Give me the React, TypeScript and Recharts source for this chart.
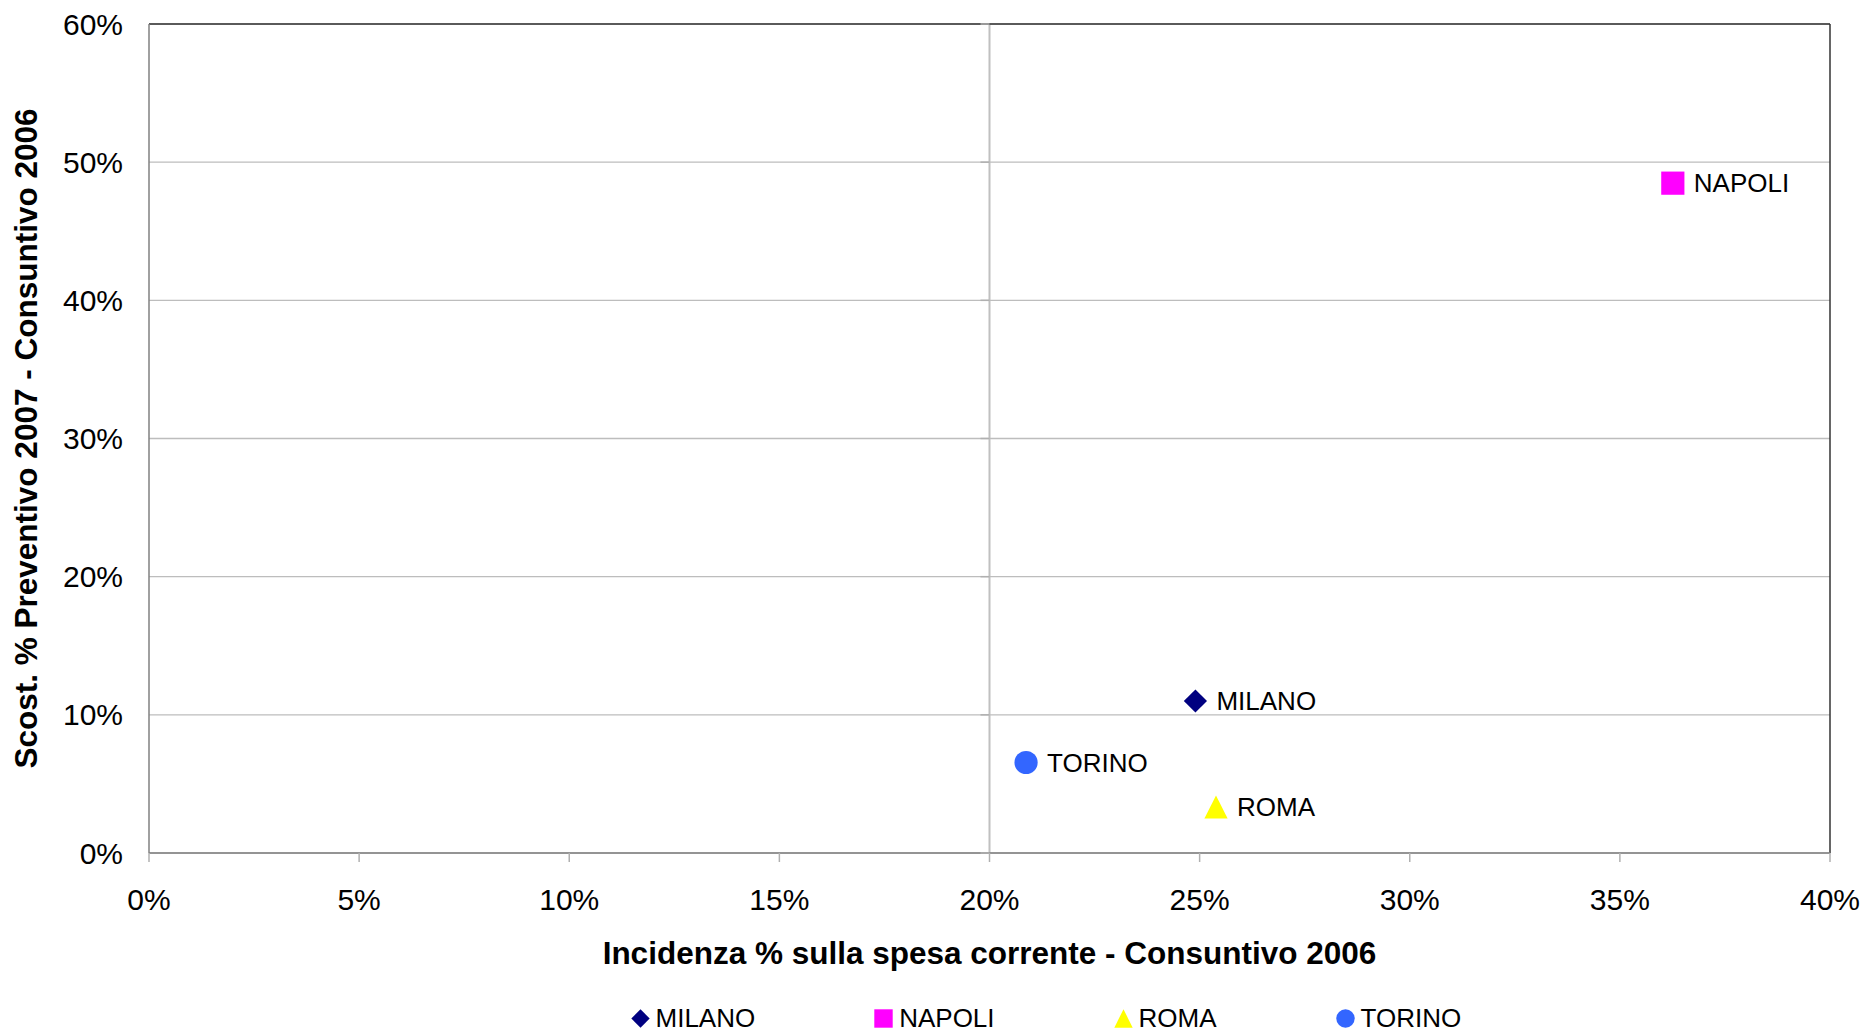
import React from 'react';
import { ScatterChart, Scatter, XAxis, YAxis, CartesianGrid, ReferenceLine, ReferenceDot } from 'recharts';

const cities = ['MILANO', 'NAPOLI', 'ROMA', 'TORINO'];
const incidenza = [0.249, 0.3626, 0.2539, 0.2087];
const scostamento = [0.110, 0.4848, 0.0333, 0.0655];
const cityColors = ['#000080', '#FF00FF', '#FFFF00', '#3366FF'];
const cityShapes = ['diamond', 'square', 'triangle', 'circle'];
const xTicks = [0, 0.05, 0.1, 0.15, 0.2, 0.25, 0.3, 0.35, 0.4];
const yTicks = [0, 0.1, 0.2, 0.3, 0.4, 0.5, 0.6];
const xTitle = 'Incidenza % sulla spesa corrente - Consuntivo 2006';
const yTitle = 'Scost. % Preventivo 2007 - Consuntivo 2006';
const yAxisCrossAt = 0.2;

const FONT = '"Liberation Sans", Arial, sans-serif';
const pct = (v: number) => `${Math.round(v * 100)}%`;

function markerEl(shape: string, cx: number, cy: number, r: number, color: string) {
  switch (shape) {
    case 'diamond':
      return <polygon points={`${cx},${cy - r} ${cx + r},${cy} ${cx},${cy + r} ${cx - r},${cy}`} fill={color} />;
    case 'square':
      return <rect x={cx - r} y={cy - r} width={2 * r} height={2 * r} fill={color} />;
    case 'triangle':
      return <polygon points={`${cx},${cy - r} ${cx + r},${cy + r} ${cx - r},${cy + r}`} fill={color} />;
    default:
      return <circle cx={cx} cy={cy} r={r} fill={color} />;
  }
}

export default function App() {
  const series = cities.map((name, i) => ({
    name,
    color: cityColors[i],
    shape: cityShapes[i],
    data: [{ x: incidenza[i], y: scostamento[i], name }],
  }));

  return (
    <div style={{ position: 'absolute', left: 0, top: 0, width: 1865, height: 1031, background: '#fff', fontFamily: FONT }}>
      <ScatterChart width={1865} height={1031} margin={{ top: 24, right: 35, bottom: 0, left: 0 }}>
        <CartesianGrid vertical={false} stroke="#bdbdbd" strokeWidth={1.3} horizontalValues={yTicks} />
        <XAxis
          type="number"
          dataKey="x"
          domain={[0, 0.4]}
          ticks={xTicks}
          interval={0}
          tickFormatter={pct}
          height={178}
          tickSize={9}
          tickMargin={27}
          axisLine={{ stroke: '#808080', strokeWidth: 1.5 }}
          tickLine={{ stroke: '#b0b0b0', strokeWidth: 1.5 }}
          tick={{ fontSize: 30, fill: '#000', fontFamily: FONT }}
          label={{
            content: (p: any) => {
              const vb = p.viewBox || {};
              return (
                <text x={vb.x + vb.width / 2} y={vb.y + 100} textAnchor="middle" dominantBaseline="central"
                  fontSize={31.5} fontWeight="bold" fontFamily={FONT} fill="#000">{xTitle}</text>
              );
            },
          }}
        />
        <YAxis
          type="number"
          dataKey="y"
          domain={[0, 0.6]}
          ticks={yTicks}
          interval={0}
          tickFormatter={pct}
          width={149}
          tickSize={0}
          tickMargin={26}
          tickLine={false}
          axisLine={{ stroke: '#808080', strokeWidth: 1.5 }}
          tick={{ fontSize: 30, fill: '#000', fontFamily: FONT }}
          label={{
            content: (p: any) => {
              const vb = p.viewBox || {};
              const cx = vb.x + 26;
              const cy = vb.y + vb.height / 2;
              return (
                <text x={cx} y={cy} textAnchor="middle" dominantBaseline="central" transform={`rotate(-90, ${cx}, ${cy})`}
                  fontSize={31.5} fontWeight="bold" fontFamily={FONT} fill="#000">{yTitle}</text>
              );
            },
          }}
        />
        <ReferenceLine x={yAxisCrossAt} stroke="#c0c0c0" strokeWidth={2} />
        {yTicks.map((t) => (
          <ReferenceDot key={t} x={yAxisCrossAt} y={t} r={0}
            shape={(p: any) => <line x1={p.cx - 9} y1={p.cy} x2={p.cx} y2={p.cy} stroke="#b0b0b0" strokeWidth={1.5} />} />
        ))}
        <ReferenceLine y={0.6} stroke="#333" strokeWidth={1.5} />
        <ReferenceLine x={0.4} stroke="#333" strokeWidth={1.5} />
        {series.map((s) => (
          <Scatter
            key={s.name}
            name={s.name}
            data={s.data}
            isAnimationActive={false}
            shape={(p: any) => (
              <g>
                {markerEl(s.shape, p.cx, p.cy, 11.6, s.color)}
                <text x={p.cx + 21} y={p.cy} dominantBaseline="central" fontSize={26} fontFamily={FONT} fill="#000">
                  {p.payload?.name}
                </text>
              </g>
            )}
          />
        ))}
      </ScatterChart>
      <div style={{ position: 'absolute', left: 630.5, top: 1003, height: 30, display: 'flex', alignItems: 'center', fontSize: 26, lineHeight: '30px', fontFamily: FONT, color: '#000' }}>
        {series.map((s, i) => (
          <div key={s.name} style={{ display: 'flex', alignItems: 'center', marginLeft: i === 0 ? 0 : 119 }}>
            <svg width={19} height={19} style={{ display: 'block' }}>
              {markerEl(s.shape, 9.5, 9.5, 9.2, s.color)}
            </svg>
            <span style={{ marginLeft: 6, whiteSpace: 'nowrap' }}>{s.name}</span>
          </div>
        ))}
      </div>
    </div>
  );
}
